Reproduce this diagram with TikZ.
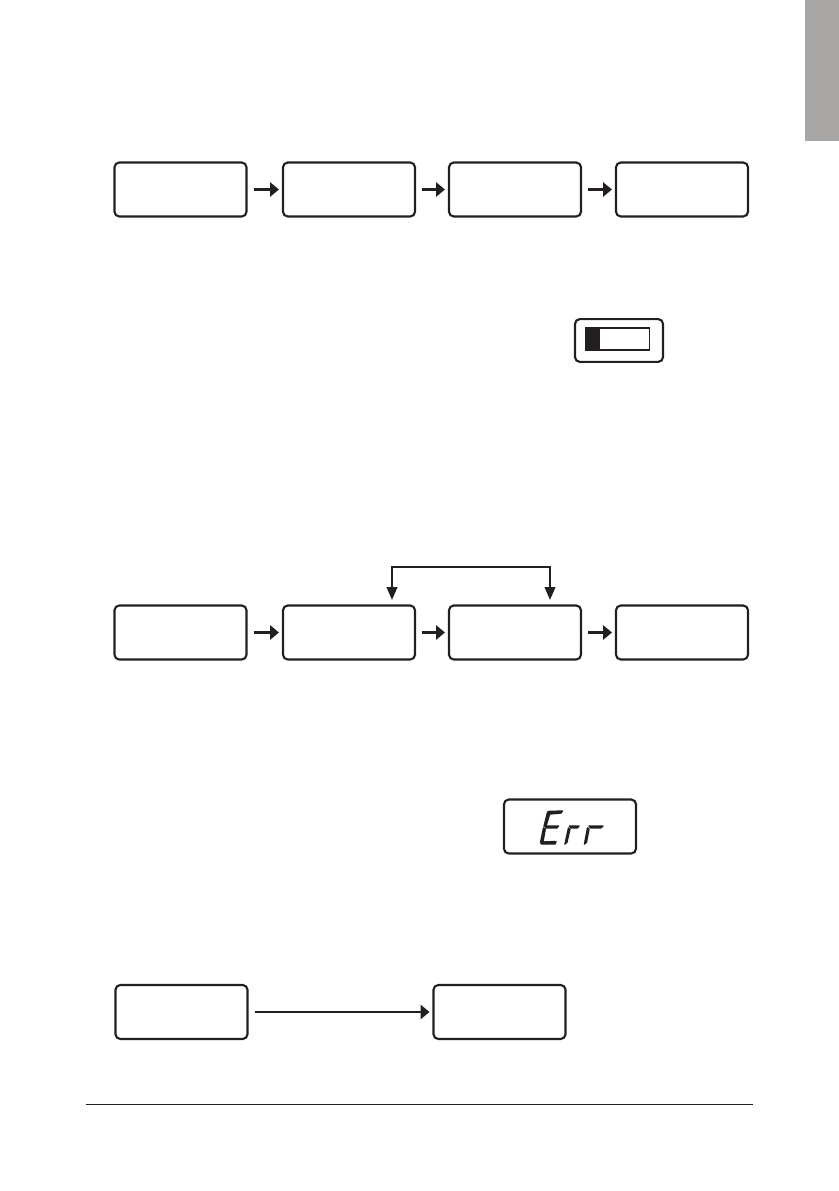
\documentclass[tikz,border=0pt]{standalone}
\usepackage{xcolor}
\usetikzlibrary{
arrows.meta,
positioning
}
\definecolor{tabgray}{HTML}{A8A6A5}
\definecolor{inkdark}{HTML}{231F20}

\begin{document}
\begin{tikzpicture}[
  x=0.025cm, y=-0.025cm,
  >={Stealth[inset=0pt, length=2.2mm, width=3.5mm]},
  panel/.style={draw=inkdark, line width=1.5pt, rounded corners=1.2mm, minimum width=3.3cm, minimum height=1.35cm, inner sep=0pt, outer sep=0pt},
  flow/.style={->, draw=inkdark, line width=1.5pt, shorten <=1.75mm, shorten >=1mm},
  loopflow/.style={<->, draw=inkdark, line width=1.5pt, >={Stealth[inset=0pt, length=3.2mm, width=2.6mm]}},
  seg/.style={fill=inkdark, draw=inkdark, line width=1pt, line join=round}
]
\useasboundingbox (0, 0) rectangle (839, 1191);

% Side tab
\fill[tabgray] (805, 0) rectangle (839, 141);

% First row
\node[panel] (a1) at (180.5, 189.5) {};
\node[panel] (a2) at (349, 189.5) {};
\node[panel] (a3) at (515, 189.5) {};
\node[panel] (a4) at (682, 189.5) {};
\draw[flow] (a1) -- (a2);
\draw[flow] (a2) -- (a3);
\draw[flow] (a3) -- (a4);

% Battery symbol
\node[panel, minimum width=2.2cm, minimum height=1.07cm] (batt) at (619, 340.5) {};
\node[draw=inkdark, line width=1.3pt, minimum width=1.6cm, minimum height=0.53cm, inner sep=0pt] (cell) at (617.5, 339) {};
\fill[inkdark] (cell.north west) rectangle (600, 350);

% Second row
\node[panel] (b1) at (180.5, 632.5) {};
\node[panel] (b2) at (349, 632.5) {};
\node[panel] (b3) at (515, 632.5) {};
\node[panel] (b4) at (682, 632.5) {};
\draw[flow] (b1) -- (b2);
\draw[flow] (b2) -- (b3);
\draw[flow] (b3) -- (b4);

% Return loop
\coordinate (loopa) at (392, 600);
\coordinate (loopb) at (550, 600);
\draw[loopflow] (loopa) -- ++(0, -33) -| (loopb);

% Error display
\node[panel] (err) at (570, 826.5) {};
\fill[seg] (548, 811.5) -- (562.5, 811) -- (561, 813) -- (550, 814) -- cycle;
\fill[seg] (547.5, 812.5) -- (549.5, 814.5) -- (546, 826) -- (544, 826.5) -- cycle;
\fill[seg] (545.5, 826) -- (558.5, 826) -- (557, 827.8) -- (546, 827.8) -- cycle;
\fill[seg] (543.5, 828) -- (545.3, 829) -- (543, 841.5) -- (540.5, 843) -- cycle;
\fill[seg] (541.5, 844) -- (543.5, 842) -- (556, 841.5) -- (555, 844) -- cycle;
\fill[seg] (568.5, 828) -- (570, 829) -- (567, 842) -- (565, 844) -- cycle;
\fill[seg] (569.5, 826) -- (579, 826) -- (577.5, 827.8) -- (571, 827.8) -- cycle;
\fill[seg] (587.5, 828) -- (589, 829) -- (586.5, 842) -- (584.5, 844) -- cycle;
\fill[seg] (589, 826) -- (603, 826) -- (601, 827.8) -- (590.5, 827.8) -- cycle;

% Last row
\node[panel] (c1) at (181.5, 1012) {};
\node[panel] (c2) at (499.5, 1012) {};
\draw[flow] (c1) -- (c2);

% Footer rule
\coordinate (rulea) at (86, 1104);
\coordinate (ruleb) at (753, 1104);
\draw[inkdark, line width=0.6pt] (rulea) -- (ruleb);

\end{tikzpicture}
\end{document}
